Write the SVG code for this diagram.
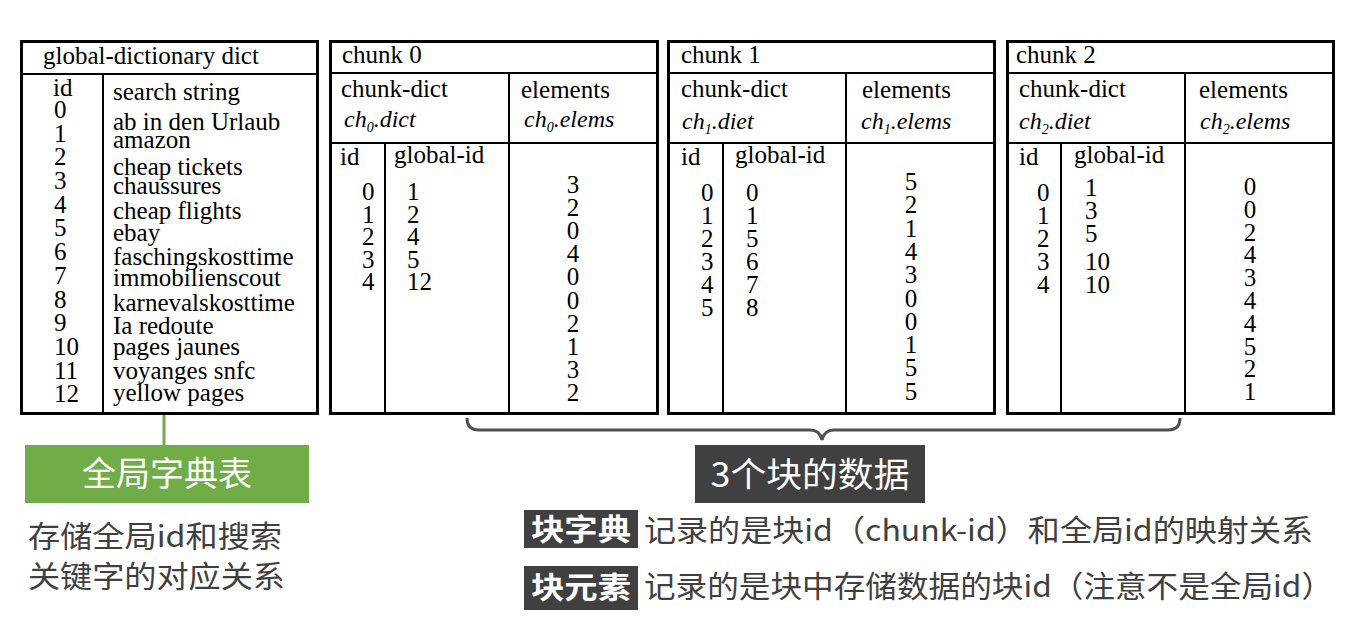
<svg xmlns="http://www.w3.org/2000/svg" width="1362" height="626" viewBox="0 0 1362 626">
<style>
.t{font-family:"Liberation Serif","Times New Roman",serif;font-size:25px;fill:#000}
.i{font-family:"Liberation Serif","Times New Roman",serif;font-size:24px;font-style:italic;fill:#000}
.sub{font-size:14px}
.c{text-anchor:middle}
.box{fill:#fff;stroke:#000;stroke-width:3}
.ln{stroke:#000;stroke-width:2;fill:none}
.cn{font-family:"Noto Sans CJK SC","Noto Sans",sans-serif;fill:#404040}
.w{fill:#fff}
</style>
<rect width="1362" height="626" fill="#fff"/>

<g id="connectors">
<line x1="164" y1="415" x2="164" y2="445" stroke="#70ad47" stroke-width="3"/>
<path d="M467,418 Q467,430 479,430 L810,430 Q820,430 822,440 Q824,430 834,430 L1168,430 Q1180,430 1180,418" fill="none" stroke="#505050" stroke-width="3"/>
</g>

<g id="global-dict">
<rect class="box" x="21.5" y="41.5" width="296" height="372"/>
<line class="ln" x1="21" y1="74" x2="318" y2="74" stroke-width="3"/>
<line class="ln" x1="103" y1="75" x2="103" y2="413"/>
<text class="t" x="43" y="64">global-dictionary dict</text>
<text class="t" x="53" y="96">id</text>
<text class="t" x="54" y="118">0</text>
<text class="t" x="54" y="142">1</text>
<text class="t" x="54" y="165">2</text>
<text class="t" x="54" y="189">3</text>
<text class="t" x="54" y="213">4</text>
<text class="t" x="54" y="236">5</text>
<text class="t" x="54" y="260">6</text>
<text class="t" x="54" y="284">7</text>
<text class="t" x="54" y="308">8</text>
<text class="t" x="54" y="331">9</text>
<text class="t" x="54" y="355">10</text>
<text class="t" x="54" y="379">11</text>
<text class="t" x="54" y="402">12</text>
<text class="t" x="113" y="100">search string</text>
<text class="t" x="113" y="130">ab in den Urlaub</text>
<text class="t" x="113" y="148">amazon</text>
<text class="t" x="113" y="175">cheap tickets</text>
<text class="t" x="113" y="194">chaussures</text>
<text class="t" x="113" y="219">cheap flights</text>
<text class="t" x="113" y="241">ebay</text>
<text class="t" x="113" y="265">faschingskosttime</text>
<text class="t" x="113" y="286">immobilienscout</text>
<text class="t" x="113" y="311">karnevalskosttime</text>
<text class="t" x="113" y="334">Ia redoute</text>
<text class="t" x="113" y="355">pages jaunes</text>
<text class="t" x="113" y="379">voyanges snfc</text>
<text class="t" x="113" y="401">yellow pages</text>
</g>

<g id="chunk0">
<rect class="box" x="330.5" y="41.5" width="327" height="372"/>
<line class="ln" x1="330" y1="73" x2="658" y2="73"/>
<line class="ln" x1="330" y1="143" x2="658" y2="143"/>
<line class="ln" x1="509" y1="73" x2="509" y2="413"/>
<line class="ln" x1="385" y1="143" x2="385" y2="413"/>
<text class="t" x="342" y="63">chunk 0</text>
<text class="t" x="341" y="97">chunk-dict</text>
<text class="i" x="344" y="127">ch<tspan class="sub" dy="5">0</tspan><tspan dy="-5">.dict</tspan></text>
<text class="t" x="521" y="98">elements</text>
<text class="i" x="524" y="127">ch<tspan class="sub" dy="5">0</tspan><tspan dy="-5">.elems</tspan></text>
<text class="t" x="340" y="165">id</text>
<text class="t" x="394" y="163">global-id</text>
<text class="t" x="362" y="200">0</text><text class="t" x="362" y="223">1</text><text class="t" x="362" y="245">2</text><text class="t" x="362" y="268">3</text><text class="t" x="362" y="290">4</text>
<text class="t" x="407" y="200">1</text><text class="t" x="407" y="223">2</text><text class="t" x="407" y="245">4</text><text class="t" x="407" y="268">5</text><text class="t" x="407" y="290">12</text>
<g class="t c">
<text x="573" y="193">3</text><text x="573" y="216">2</text><text x="573" y="239">0</text><text x="573" y="262">4</text><text x="573" y="285">0</text><text x="573" y="309">0</text><text x="573" y="332">2</text><text x="573" y="355">1</text><text x="573" y="378">3</text><text x="573" y="401">2</text>
</g>
</g>

<g id="chunk1">
<rect class="box" x="668.5" y="41.5" width="326" height="372"/>
<line class="ln" x1="668" y1="73" x2="995" y2="73"/>
<line class="ln" x1="668" y1="143" x2="995" y2="143"/>
<line class="ln" x1="846" y1="73" x2="846" y2="413"/>
<line class="ln" x1="723" y1="143" x2="723" y2="413"/>
<text class="t" x="681" y="63">chunk 1</text>
<text class="t" x="681" y="97">chunk-dict</text>
<text class="i" x="682" y="129">ch<tspan class="sub" dy="5">1</tspan><tspan dy="-5">.diet</tspan></text>
<text class="t" x="862" y="98">elements</text>
<text class="i" x="861" y="129">ch<tspan class="sub" dy="5">1</tspan><tspan dy="-5">.elems</tspan></text>
<text class="t" x="681" y="165">id</text>
<text class="t" x="735" y="163">global-id</text>
<text class="t" x="701" y="201">0</text><text class="t" x="701" y="224">1</text><text class="t" x="701" y="247">2</text><text class="t" x="701" y="270">3</text><text class="t" x="701" y="293">4</text><text class="t" x="701" y="316">5</text>
<text class="t" x="746" y="201">0</text><text class="t" x="746" y="224">1</text><text class="t" x="746" y="247">5</text><text class="t" x="746" y="270">6</text><text class="t" x="746" y="293">7</text><text class="t" x="746" y="316">8</text>
<g class="t c">
<text x="911" y="190">5</text><text x="911" y="213">2</text><text x="911" y="237">1</text><text x="911" y="260">4</text><text x="911" y="283">3</text><text x="911" y="307">0</text><text x="911" y="330">0</text><text x="911" y="353">1</text><text x="911" y="376">5</text><text x="911" y="400">5</text>
</g>
</g>

<g id="chunk2">
<rect class="box" x="1007.5" y="41.5" width="326" height="372"/>
<line class="ln" x1="1007" y1="73" x2="1334" y2="73"/>
<line class="ln" x1="1007" y1="143" x2="1334" y2="143"/>
<line class="ln" x1="1185" y1="73" x2="1185" y2="413"/>
<line class="ln" x1="1061" y1="143" x2="1061" y2="413"/>
<text class="t" x="1016" y="63">chunk 2</text>
<text class="t" x="1019" y="97">chunk-dict</text>
<text class="i" x="1019" y="129">ch<tspan class="sub" dy="5">2</tspan><tspan dy="-5">.diet</tspan></text>
<text class="t" x="1199" y="98">elements</text>
<text class="i" x="1200" y="129">ch<tspan class="sub" dy="5">2</tspan><tspan dy="-5">.elems</tspan></text>
<text class="t" x="1019" y="165">id</text>
<text class="t" x="1074" y="163">global-id</text>
<text class="t" x="1037" y="201">0</text><text class="t" x="1037" y="224">1</text><text class="t" x="1037" y="247">2</text><text class="t" x="1037" y="270">3</text><text class="t" x="1037" y="293">4</text>
<text class="t" x="1085" y="196">1</text><text class="t" x="1085" y="219">3</text><text class="t" x="1085" y="242">5</text><text class="t" x="1085" y="270">10</text><text class="t" x="1085" y="293">10</text>
<g class="t c">
<text x="1250" y="195">0</text><text x="1250" y="218">0</text><text x="1250" y="241">2</text><text x="1250" y="263">4</text><text x="1250" y="286">3</text><text x="1250" y="309">4</text><text x="1250" y="332">4</text><text x="1250" y="355">5</text><text x="1250" y="377">2</text><text x="1250" y="400">1</text>
</g>
</g>

<g id="label-global">
<rect x="25" y="445" width="284" height="58" fill="#70ad47"/>
<text class="cn w c" x="167" y="486" font-size="34">全局字典表</text>
<text class="cn" x="28" y="547" font-size="30" textLength="254" lengthAdjust="spacingAndGlyphs">存储全局id和搜索</text>
<text class="cn" x="28" y="587" font-size="30" textLength="257" lengthAdjust="spacingAndGlyphs">关键字的对应关系</text>
</g>

<g id="label-chunks">
<rect x="695" y="445" width="230" height="58" fill="#404040"/>
<text class="cn w c" x="810" y="487" font-size="34" textLength="199" lengthAdjust="spacingAndGlyphs">3个块的数据</text>
</g>

<g id="note-dict">
<rect x="524" y="510" width="114" height="38" fill="#404040"/>
<text class="cn w c" x="581" y="540" font-size="30" font-weight="bold" textLength="100" lengthAdjust="spacingAndGlyphs">块字典</text>
<text class="cn" x="644" y="541" font-size="30" textLength="669" lengthAdjust="spacingAndGlyphs">记录的是块id（chunk-id）和全局id的映射关系</text>
</g>

<g id="note-elems">
<rect x="524" y="566" width="114" height="44" fill="#404040"/>
<text class="cn w c" x="581" y="598" font-size="30" font-weight="bold" textLength="100" lengthAdjust="spacingAndGlyphs">块元素</text>
<text class="cn" x="644" y="597" font-size="30" textLength="689" lengthAdjust="spacingAndGlyphs">记录的是块中存储数据的块id（注意不是全局id）</text>
</g>
</svg>
